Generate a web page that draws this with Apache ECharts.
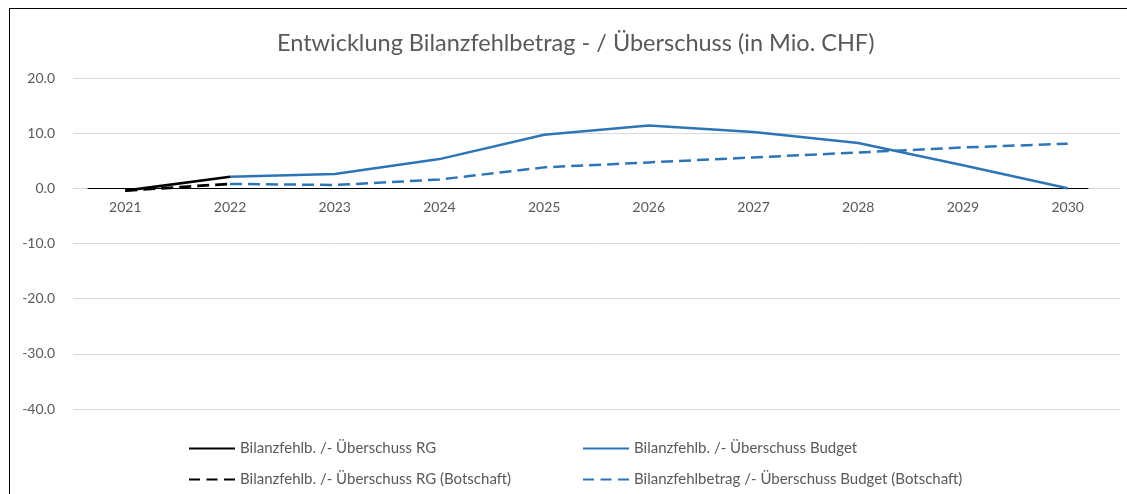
<!DOCTYPE html>
<html>
<head>
<meta charset="utf-8">
<script src="https://cdn.jsdelivr.net/npm/echarts@6/dist/echarts.min.js"></script>
<style>
  html, body { margin: 0; padding: 0; background: #fff; overflow: hidden; }
  #chart { position: absolute; left: 0; top: 0; width: 1127px; height: 494px; }
  .frame { position: absolute; left: 9px; top: 8px; width: 1200px; height: 600px; border: 1px solid #000; pointer-events: none; }
</style>
</head>
<body>
<div id="chart"></div>
<div class="frame"></div>
<script>
// Jahre
var years = ['2021', '2022', '2023', '2024', '2025', '2026', '2027', '2028', '2029', '2030']

// Werte in Mio. CHF
var rgValues = [-0.4, 2.1, null, null, null, null, null, null, null, null]
var rgBotschaftValues = [-0.4, 0.8, null, null, null, null, null, null, null, null]
var budgetValues = [null, 2.1, 2.6, 5.3, 9.7, 11.4, 10.2, 8.2, 4.2, 0.0]
var budgetBotschaftValues = [null, 0.8, 0.6, 1.6, 3.8, 4.7, 5.6, 6.5, 7.4, 8.1]

var seriesNames = [
  'Bilanzfehlb. /- Überschuss RG',
  'Bilanzfehlb. /- Überschuss Budget',
  'Bilanzfehlb. /- Überschuss RG (Botschaft)',
  'Bilanzfehlbetrag /- Überschuss Budget (Botschaft)'
]

var FONT = 'Lato, "Open Sans", sans-serif'
var TEXT_COLOR = '#595959'
var BLUE = '#2e75b6'
var DASH = [12, 6]
var LEGEND_DASH = [11, 6.5]

var Y_MIN = -40
var Y_MAX = 20

var chart = echarts.init(document.getElementById('chart'))

function legendAt(name, left, top, dashed) {
  var lg = {
    data: [name],
    left: left,
    top: top,
    itemWidth: 46,
    itemHeight: 14,
    selectedMode: false,
    itemStyle: { opacity: 0 },
    textStyle: { fontFamily: FONT, fontSize: 15, color: TEXT_COLOR }
  }
  if (dashed) lg.lineStyle = { type: LEGEND_DASH }
  return lg
}

// hidden helper y axis for the extra grids
function helperY(idx) {
  return {
    gridIndex: idx, type: 'value', min: Y_MIN, max: Y_MAX, show: false
  }
}

chart.setOption({
  animation: false,
  title: {
    text: 'Entwicklung Bilanzfehlbetrag - / Überschuss (in Mio. CHF)',
    left: 272,
    top: 26,
    textStyle: { fontFamily: FONT, fontSize: 23.5, fontWeight: 'normal', color: TEXT_COLOR }
  },
  legend: [
    legendAt(seriesNames[0], 183, 436, false),
    legendAt(seriesNames[1], 577, 436, false),
    legendAt(seriesNames[2], 183, 467, true),
    legendAt(seriesNames[3], 577, 467, true)
  ],
  grid: [
    // plot area
    { left: 73, right: 7, top: 78, bottom: 85 },
    // zero line (shorter than the plot area, like the original)
    { left: 88, right: 39, top: 78, bottom: 85 },
    // year labels sitting under the zero line
    { left: 73, right: 7, top: 78, bottom: 306 }
  ],
  xAxis: [
    {
      gridIndex: 0,
      type: 'category',
      data: years,
      boundaryGap: true,
      axisLine: { show: false },
      axisTick: { show: false },
      axisLabel: { show: false },
      splitLine: { show: false }
    },
    {
      gridIndex: 1,
      type: 'value',
      min: 0,
      max: 1,
      axisLine: { onZero: true, lineStyle: { color: '#000', width: 1 } },
      axisTick: { show: false },
      axisLabel: { show: false },
      splitLine: { show: false }
    },
    {
      gridIndex: 2,
      type: 'category',
      data: years,
      boundaryGap: true,
      axisLine: { show: false },
      axisTick: { show: false },
      axisLabel: { fontFamily: FONT, fontSize: 14, color: TEXT_COLOR, margin: 12 },
      splitLine: { show: false }
    }
  ],
  yAxis: [
    {
      gridIndex: 0,
      type: 'value',
      min: Y_MIN,
      max: Y_MAX,
      interval: 10,
      axisLine: { show: false },
      axisTick: { show: false },
      axisLabel: {
        fontFamily: FONT,
        fontSize: 14,
        color: TEXT_COLOR,
        margin: 18,
        formatter: function (v) { return v.toFixed(1) }
      },
      splitLine: { lineStyle: { color: '#d9d9d9', width: 1 } }
    },
    helperY(1),
    helperY(2)
  ],
  series: [
    {
      name: seriesNames[1],
      type: 'line',
      data: budgetValues,
      symbol: 'none',
      z: 3,
      lineStyle: { color: BLUE, width: 2.5 },
      itemStyle: { color: BLUE }
    },
    {
      name: seriesNames[3],
      type: 'line',
      data: budgetBotschaftValues,
      symbol: 'none',
      z: 3,
      lineStyle: { color: BLUE, width: 2.5, type: DASH },
      itemStyle: { color: BLUE }
    },
    {
      name: seriesNames[0],
      type: 'line',
      data: rgValues,
      symbol: 'none',
      z: 3,
      lineStyle: { color: '#000', width: 2.75 },
      itemStyle: { color: '#000' }
    },
    {
      name: seriesNames[2],
      type: 'line',
      data: rgBotschaftValues,
      symbol: 'none',
      z: 3,
      lineStyle: { color: '#000', width: 2.75, type: DASH },
      itemStyle: { color: '#000' }
    }
  ]
})
</script>
</body>
</html>
